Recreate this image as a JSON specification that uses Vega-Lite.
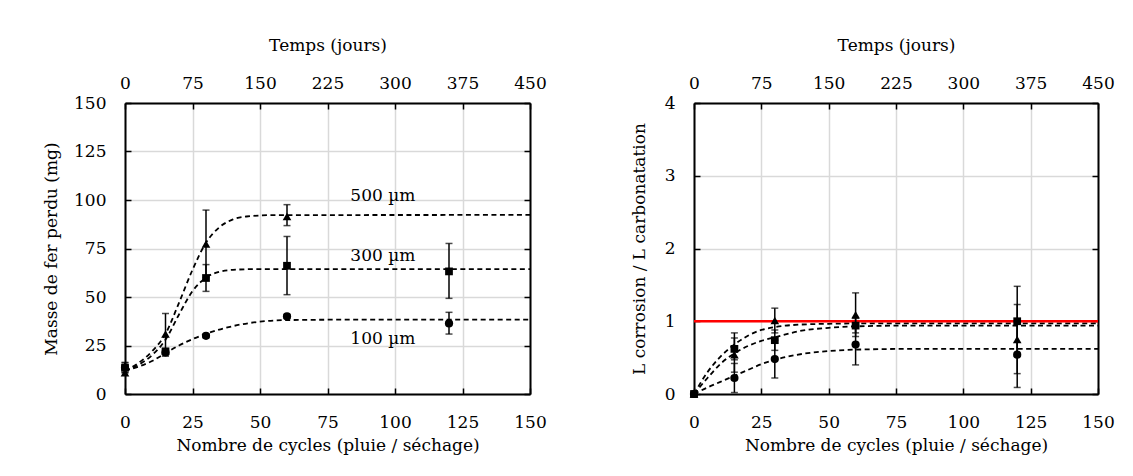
{
  "$schema": "https://vega.github.io/schema/vega-lite/v6.json",
  "padding": {"left": 42, "top": 36, "right": 5, "bottom": 5},
  "background": "white",
  "spacing": 83,
  "datasets": {
    "left_pts": [
      {"serie": "100", "cycles": 0, "y": 13.5, "lo": 11, "hi": 16},
      {"serie": "100", "cycles": 15, "y": 21.4, "lo": 19.5, "hi": 23.3},
      {"serie": "100", "cycles": 30, "y": 30, "lo": 29, "hi": 31},
      {"serie": "100", "cycles": 60, "y": 40, "lo": 39, "hi": 41},
      {"serie": "100", "cycles": 120, "y": 36.4, "lo": 30.9, "hi": 42.1},
      {"serie": "300", "cycles": 0, "y": 13.5, "lo": 11, "hi": 16.3},
      {"serie": "300", "cycles": 15, "y": 22, "lo": null, "hi": null},
      {"serie": "300", "cycles": 30, "y": 59.8, "lo": 52.9, "hi": 66.7},
      {"serie": "300", "cycles": 60, "y": 66.1, "lo": 51.2, "hi": 81.2},
      {"serie": "300", "cycles": 120, "y": 63.2, "lo": 49.3, "hi": 77.6},
      {"serie": "500", "cycles": 0, "y": 11, "lo": null, "hi": null},
      {"serie": "500", "cycles": 15, "y": 30.9, "lo": 20.3, "hi": 41.5},
      {"serie": "500", "cycles": 30, "y": 77.3, "lo": 60, "hi": 94.8},
      {"serie": "500", "cycles": 60, "y": 91.5, "lo": 86.8, "hi": 97.6}
    ],
    "left_fit": [
      {"serie": "100", "cycles": 0, "y": 12},
      {"serie": "100", "cycles": 10, "y": 17},
      {"serie": "100", "cycles": 15, "y": 21},
      {"serie": "100", "cycles": 20, "y": 25},
      {"serie": "100", "cycles": 30, "y": 31},
      {"serie": "100", "cycles": 40, "y": 35},
      {"serie": "100", "cycles": 50, "y": 37.3},
      {"serie": "100", "cycles": 60, "y": 38.1},
      {"serie": "100", "cycles": 80, "y": 38.3},
      {"serie": "100", "cycles": 150, "y": 38.3},
      {"serie": "300", "cycles": 0, "y": 12},
      {"serie": "300", "cycles": 5, "y": 15},
      {"serie": "300", "cycles": 10, "y": 20},
      {"serie": "300", "cycles": 15, "y": 28},
      {"serie": "300", "cycles": 20, "y": 41},
      {"serie": "300", "cycles": 25, "y": 53},
      {"serie": "300", "cycles": 30, "y": 60},
      {"serie": "300", "cycles": 35, "y": 63},
      {"serie": "300", "cycles": 40, "y": 64},
      {"serie": "300", "cycles": 50, "y": 64.4},
      {"serie": "300", "cycles": 150, "y": 64.4},
      {"serie": "500", "cycles": 0, "y": 12},
      {"serie": "500", "cycles": 5, "y": 16},
      {"serie": "500", "cycles": 10, "y": 22},
      {"serie": "500", "cycles": 15, "y": 31},
      {"serie": "500", "cycles": 20, "y": 47},
      {"serie": "500", "cycles": 25, "y": 64},
      {"serie": "500", "cycles": 30, "y": 78},
      {"serie": "500", "cycles": 35, "y": 86},
      {"serie": "500", "cycles": 40, "y": 90},
      {"serie": "500", "cycles": 45, "y": 91.5},
      {"serie": "500", "cycles": 55, "y": 92.2},
      {"serie": "500", "cycles": 150, "y": 92.3}
    ],
    "left_labels": [
      {"cycles": 95.5, "y": 101.9, "txt": "500 µm"},
      {"cycles": 95.5, "y": 70.9, "txt": "300 µm"},
      {"cycles": 95.5, "y": 28.4, "txt": "100 µm"}
    ],
    "right_pts": [
      {"serie": "100", "cycles": 0, "y": 0, "lo": null, "hi": null},
      {"serie": "100", "cycles": 15, "y": 0.22, "lo": 0.02, "hi": 0.42},
      {"serie": "100", "cycles": 30, "y": 0.48, "lo": 0.22, "hi": 0.74},
      {"serie": "100", "cycles": 60, "y": 0.68, "lo": 0.4, "hi": 0.96},
      {"serie": "100", "cycles": 120, "y": 0.54, "lo": 0.09, "hi": 0.99},
      {"serie": "300", "cycles": 0, "y": 0, "lo": null, "hi": null},
      {"serie": "300", "cycles": 15, "y": 0.62, "lo": 0.47, "hi": 0.77},
      {"serie": "300", "cycles": 30, "y": 0.74, "lo": 0.6, "hi": 0.88},
      {"serie": "300", "cycles": 60, "y": 0.94, "lo": 0.84, "hi": 1.04},
      {"serie": "300", "cycles": 120, "y": 1.0, "lo": 0.52, "hi": 1.48},
      {"serie": "500", "cycles": 0, "y": 0, "lo": null, "hi": null},
      {"serie": "500", "cycles": 15, "y": 0.54, "lo": 0.3, "hi": 0.84},
      {"serie": "500", "cycles": 30, "y": 1.01, "lo": 0.84, "hi": 1.18},
      {"serie": "500", "cycles": 60, "y": 1.09, "lo": 0.79, "hi": 1.39},
      {"serie": "500", "cycles": 120, "y": 0.75, "lo": 0.28, "hi": 1.23}
    ],
    "right_fit": [
      {"serie": "100", "cycles": 0, "y": 0},
      {"serie": "100", "cycles": 5, "y": 0.09},
      {"serie": "100", "cycles": 10, "y": 0.17},
      {"serie": "100", "cycles": 15, "y": 0.25},
      {"serie": "100", "cycles": 20, "y": 0.33},
      {"serie": "100", "cycles": 25, "y": 0.41},
      {"serie": "100", "cycles": 30, "y": 0.47},
      {"serie": "100", "cycles": 40, "y": 0.55},
      {"serie": "100", "cycles": 50, "y": 0.59},
      {"serie": "100", "cycles": 60, "y": 0.61},
      {"serie": "100", "cycles": 80, "y": 0.62},
      {"serie": "100", "cycles": 150, "y": 0.62},
      {"serie": "300", "cycles": 0, "y": 0},
      {"serie": "300", "cycles": 5, "y": 0.22},
      {"serie": "300", "cycles": 10, "y": 0.42},
      {"serie": "300", "cycles": 15, "y": 0.56},
      {"serie": "300", "cycles": 20, "y": 0.66},
      {"serie": "300", "cycles": 25, "y": 0.73},
      {"serie": "300", "cycles": 30, "y": 0.78},
      {"serie": "300", "cycles": 40, "y": 0.87},
      {"serie": "300", "cycles": 50, "y": 0.91},
      {"serie": "300", "cycles": 60, "y": 0.93},
      {"serie": "300", "cycles": 80, "y": 0.94},
      {"serie": "300", "cycles": 150, "y": 0.94},
      {"serie": "500", "cycles": 0, "y": 0},
      {"serie": "500", "cycles": 5, "y": 0.3},
      {"serie": "500", "cycles": 10, "y": 0.52},
      {"serie": "500", "cycles": 15, "y": 0.68},
      {"serie": "500", "cycles": 20, "y": 0.8},
      {"serie": "500", "cycles": 25, "y": 0.88},
      {"serie": "500", "cycles": 30, "y": 0.92},
      {"serie": "500", "cycles": 40, "y": 0.955},
      {"serie": "500", "cycles": 50, "y": 0.965},
      {"serie": "500", "cycles": 60, "y": 0.97},
      {"serie": "500", "cycles": 150, "y": 0.97}
    ],
    "ref_line": [{"cycles": 0, "y": 1}, {"cycles": 150, "y": 1}],
    "left_axis": [{"jours": 0, "v": 0}, {"jours": 450, "v": 150}],
    "right_axis": [{"jours": 0, "v": 0}, {"jours": 450, "v": 4}]
  },
  "hconcat": [
    {
      "width": 405,
      "height": 291,
      "layer": [
        {
          "encoding": {
            "x": {"field": "cycles", "type": "quantitative", "scale": {"domain": [0, 150], "nice": false},
              "axis": {"orient": "bottom", "values": [0, 25, 50, 75, 100, 125, 150], "title": "Nombre de cycles (pluie / séchage)", "labelPadding": 26, "titlePadding": 7, "grid": true}},
            "y": {"type": "quantitative", "scale": {"domain": [0, 150], "nice": false},
              "axis": {"orient": "left", "values": [0, 25, 50, 75, 100, 125, 150], "title": "Masse de fer perdu (mg)", "labelPadding": 25, "titlePadding": 13, "grid": true}}
          },
          "layer": [
            {"data": {"name": "left_fit"}, "mark": {"type": "line", "interpolate": "monotone", "color": "black", "strokeWidth": 1.8, "strokeDash": [5, 3.5]},
              "encoding": {"y": {"field": "y"}, "detail": {"field": "serie"}}},
            {"data": {"name": "left_pts"}, "transform": [{"filter": "isValid(datum.lo)"}], "mark": {"type": "rule", "color": "black", "strokeWidth": 1.5},
              "encoding": {"y": {"field": "lo"}, "y2": {"field": "hi"}}},
            {"data": {"name": "left_pts"}, "transform": [{"filter": "isValid(datum.lo)"}], "mark": {"type": "tick", "orient": "horizontal", "color": "black", "size": 7, "thickness": 1.5},
              "encoding": {"y": {"field": "lo"}}},
            {"data": {"name": "left_pts"}, "transform": [{"filter": "isValid(datum.hi)"}], "mark": {"type": "tick", "orient": "horizontal", "color": "black", "size": 7, "thickness": 1.5},
              "encoding": {"y": {"field": "hi"}}},
            {"data": {"name": "left_pts"}, "mark": {"type": "point", "filled": true, "color": "black", "opacity": 1},
              "encoding": {"y": {"field": "y"},
                "shape": {"field": "serie", "type": "nominal", "scale": {"domain": ["300", "100", "500"], "range": ["square", "circle", "triangle-up"]}, "legend": null},
                "size": {"field": "serie", "type": "nominal", "scale": {"domain": ["300", "100", "500"], "range": [60, 75, 100]}, "legend": null},
                "order": {"field": "serie"}}},
            {"data": {"name": "left_labels"}, "mark": {"type": "text", "font": "DejaVu Serif", "fontSize": 17, "color": "black", "align": "center", "baseline": "middle"},
              "encoding": {"y": {"field": "y"}, "text": {"field": "txt"}}}
          ]
        },
        {
          "data": {"name": "left_axis"},
          "mark": {"type": "point", "opacity": 0},
          "encoding": {
            "x": {"field": "jours", "type": "quantitative", "scale": {"domain": [0, 450], "nice": false},
              "axis": {"orient": "top", "values": [0, 75, 150, 225, 300, 375, 450], "title": "Temps (jours)", "grid": false, "labelPadding": 17, "titlePadding": 20}},
            "y": {"field": "v", "type": "quantitative", "scale": {"domain": [0, 150], "nice": false},
              "axis": {"orient": "right", "values": [0, 25, 50, 75, 100, 125, 150], "labels": false, "title": null, "grid": false}}
          }
        }
      ],
      "resolve": {"scale": {"x": "independent", "y": "independent"}}
    },
    {
      "width": 404,
      "height": 291,
      "layer": [
        {
          "encoding": {
            "x": {"field": "cycles", "type": "quantitative", "scale": {"domain": [0, 150], "nice": false},
              "axis": {"orient": "bottom", "values": [0, 25, 50, 75, 100, 125, 150], "title": "Nombre de cycles (pluie / séchage)", "labelPadding": 26, "titlePadding": 7, "grid": true}},
            "y": {"type": "quantitative", "scale": {"domain": [0, 4], "nice": false},
              "axis": {"orient": "left", "values": [0, 1, 2, 3, 4], "title": "L corrosion / L carbonatation", "labelPadding": 25, "titlePadding": 16, "grid": true}}
          },
          "layer": [
            {"data": {"name": "right_fit"}, "mark": {"type": "line", "interpolate": "monotone", "color": "black", "strokeWidth": 1.8, "strokeDash": [5, 3.5]},
              "encoding": {"y": {"field": "y"}, "detail": {"field": "serie"}}},
            {"data": {"name": "ref_line"}, "mark": {"type": "line", "color": "#ff0000", "strokeWidth": 2.5},
              "encoding": {"y": {"field": "y"}}},
            {"data": {"name": "right_pts"}, "transform": [{"filter": "isValid(datum.lo)"}], "mark": {"type": "rule", "color": "black", "strokeWidth": 1.5},
              "encoding": {"y": {"field": "lo"}, "y2": {"field": "hi"}}},
            {"data": {"name": "right_pts"}, "transform": [{"filter": "isValid(datum.lo)"}], "mark": {"type": "tick", "orient": "horizontal", "color": "black", "size": 7, "thickness": 1.5},
              "encoding": {"y": {"field": "lo"}}},
            {"data": {"name": "right_pts"}, "transform": [{"filter": "isValid(datum.hi)"}], "mark": {"type": "tick", "orient": "horizontal", "color": "black", "size": 7, "thickness": 1.5},
              "encoding": {"y": {"field": "hi"}}},
            {"data": {"name": "right_pts"}, "mark": {"type": "point", "filled": true, "color": "black", "opacity": 1},
              "encoding": {"y": {"field": "y"},
                "shape": {"field": "serie", "type": "nominal", "scale": {"domain": ["300", "100", "500"], "range": ["square", "circle", "triangle-up"]}, "legend": null},
                "size": {"field": "serie", "type": "nominal", "scale": {"domain": ["300", "100", "500"], "range": [60, 75, 100]}, "legend": null},
                "order": {"field": "serie"}}}
          ]
        },
        {
          "data": {"name": "right_axis"},
          "mark": {"type": "point", "opacity": 0},
          "encoding": {
            "x": {"field": "jours", "type": "quantitative", "scale": {"domain": [0, 450], "nice": false},
              "axis": {"orient": "top", "values": [0, 75, 150, 225, 300, 375, 450], "title": "Temps (jours)", "grid": false, "labelPadding": 17, "titlePadding": 20}},
            "y": {"field": "v", "type": "quantitative", "scale": {"domain": [0, 4], "nice": false},
              "axis": {"orient": "right", "values": [0, 1, 2, 3, 4], "labels": false, "title": null, "grid": false}}
          }
        }
      ],
      "resolve": {"scale": {"x": "independent", "y": "independent"}}
    }
  ],
  "config": {
    "view": {"stroke": null},
    "axis": {
      "labelFont": "DejaVu Serif", "titleFont": "DejaVu Serif",
      "labelFontSize": 17, "titleFontSize": 17, "titleFontWeight": "normal",
      "labelColor": "black", "titleColor": "black",
      "domainColor": "black", "domainWidth": 2,
      "tickColor": "black", "tickWidth": 1.5, "tickSize": -6,
      "gridColor": "#d9d9d9", "gridWidth": 1.5,
      "labelFlush": false, "labelOverlap": false
    }
  }
}
